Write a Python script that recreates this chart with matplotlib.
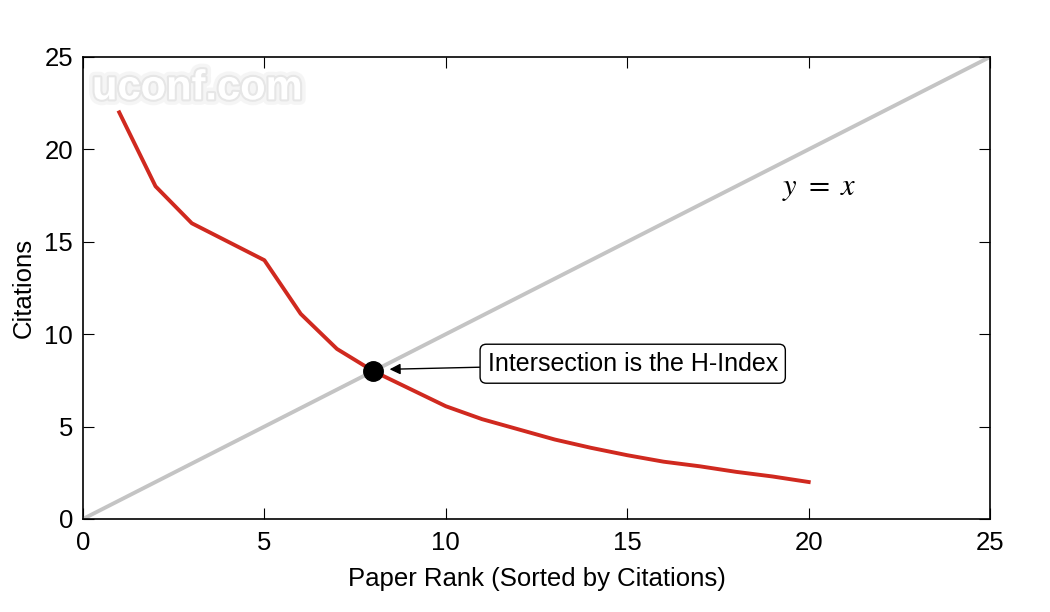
import numpy as np
import matplotlib
matplotlib.use('Agg')
import matplotlib.pyplot as plt
import matplotlib.patheffects as pe

matplotlib.rcParams['font.family'] = ['Liberation Sans', 'DejaVu Sans']
matplotlib.rcParams['mathtext.fontset'] = 'stix'

# data
rank = np.arange(1, 21)
citations = [22, 18, 16, 15, 14, 11.1, 9.2, 8, 7.05, 6.1, 5.4, 4.85, 4.3, 3.85,
             3.45, 3.1, 2.85, 2.55, 2.3, 2.0]
diag = [0, 25]
h_index = 8

fig = plt.figure(figsize=(10.5, 6.12), dpi=100)
ax = fig.add_axes([0.079, 0.152, 0.864, 0.755])

ax.plot(diag, diag, color='#c4c4c4', lw=2.8, zorder=2)
ax.plot(rank, citations, color='#d0291f', lw=2.8, zorder=3)
ax.plot(h_index, h_index, 'o', color='black', ms=14, zorder=4)

ax.annotate('Intersection is the H-Index', xy=(8.45, 8.1), xytext=(15.15, 8.4),
            fontsize=18, ha='center', va='center',
            bbox=dict(boxstyle='round,pad=0.3,rounding_size=0.25', fc='white', ec='black', lw=1),
            arrowprops=dict(arrowstyle='-|>', color='black', lw=1, mutation_scale=16,
                            shrinkA=0, shrinkB=0))

ax.text(20.3, 17.9, r'$y\ =\ x$', fontsize=22, ha='center', va='center')

ax.text(0.25, 23.3, 'uconf.com', fontsize=30, fontweight='bold', color='white',
        va='center', ha='left', zorder=5,
        path_effects=[pe.withStroke(linewidth=8, foreground='#ececec', alpha=0.5),
                      pe.withStroke(linewidth=3, foreground='#dcdcdc', alpha=0.6)])

ax.set_xlim(0, 25)
ax.set_ylim(0, 25)
ax.set_xticks([0, 5, 10, 15, 20, 25])
ax.set_yticks([0, 5, 10, 15, 20, 25])
ax.tick_params(direction='in', top=True, right=True, length=8, labelsize=18.5, pad=7)
ax.tick_params(axis='x', pad=9)
for s in ax.spines.values():
    s.set_linewidth(1.2)
ax.set_xlabel('Paper Rank (Sorted by Citations)', fontsize=18.5, labelpad=8)
ax.set_ylabel('Citations', fontsize=18.5, labelpad=6)

fig.savefig('out.png', dpi=100)
